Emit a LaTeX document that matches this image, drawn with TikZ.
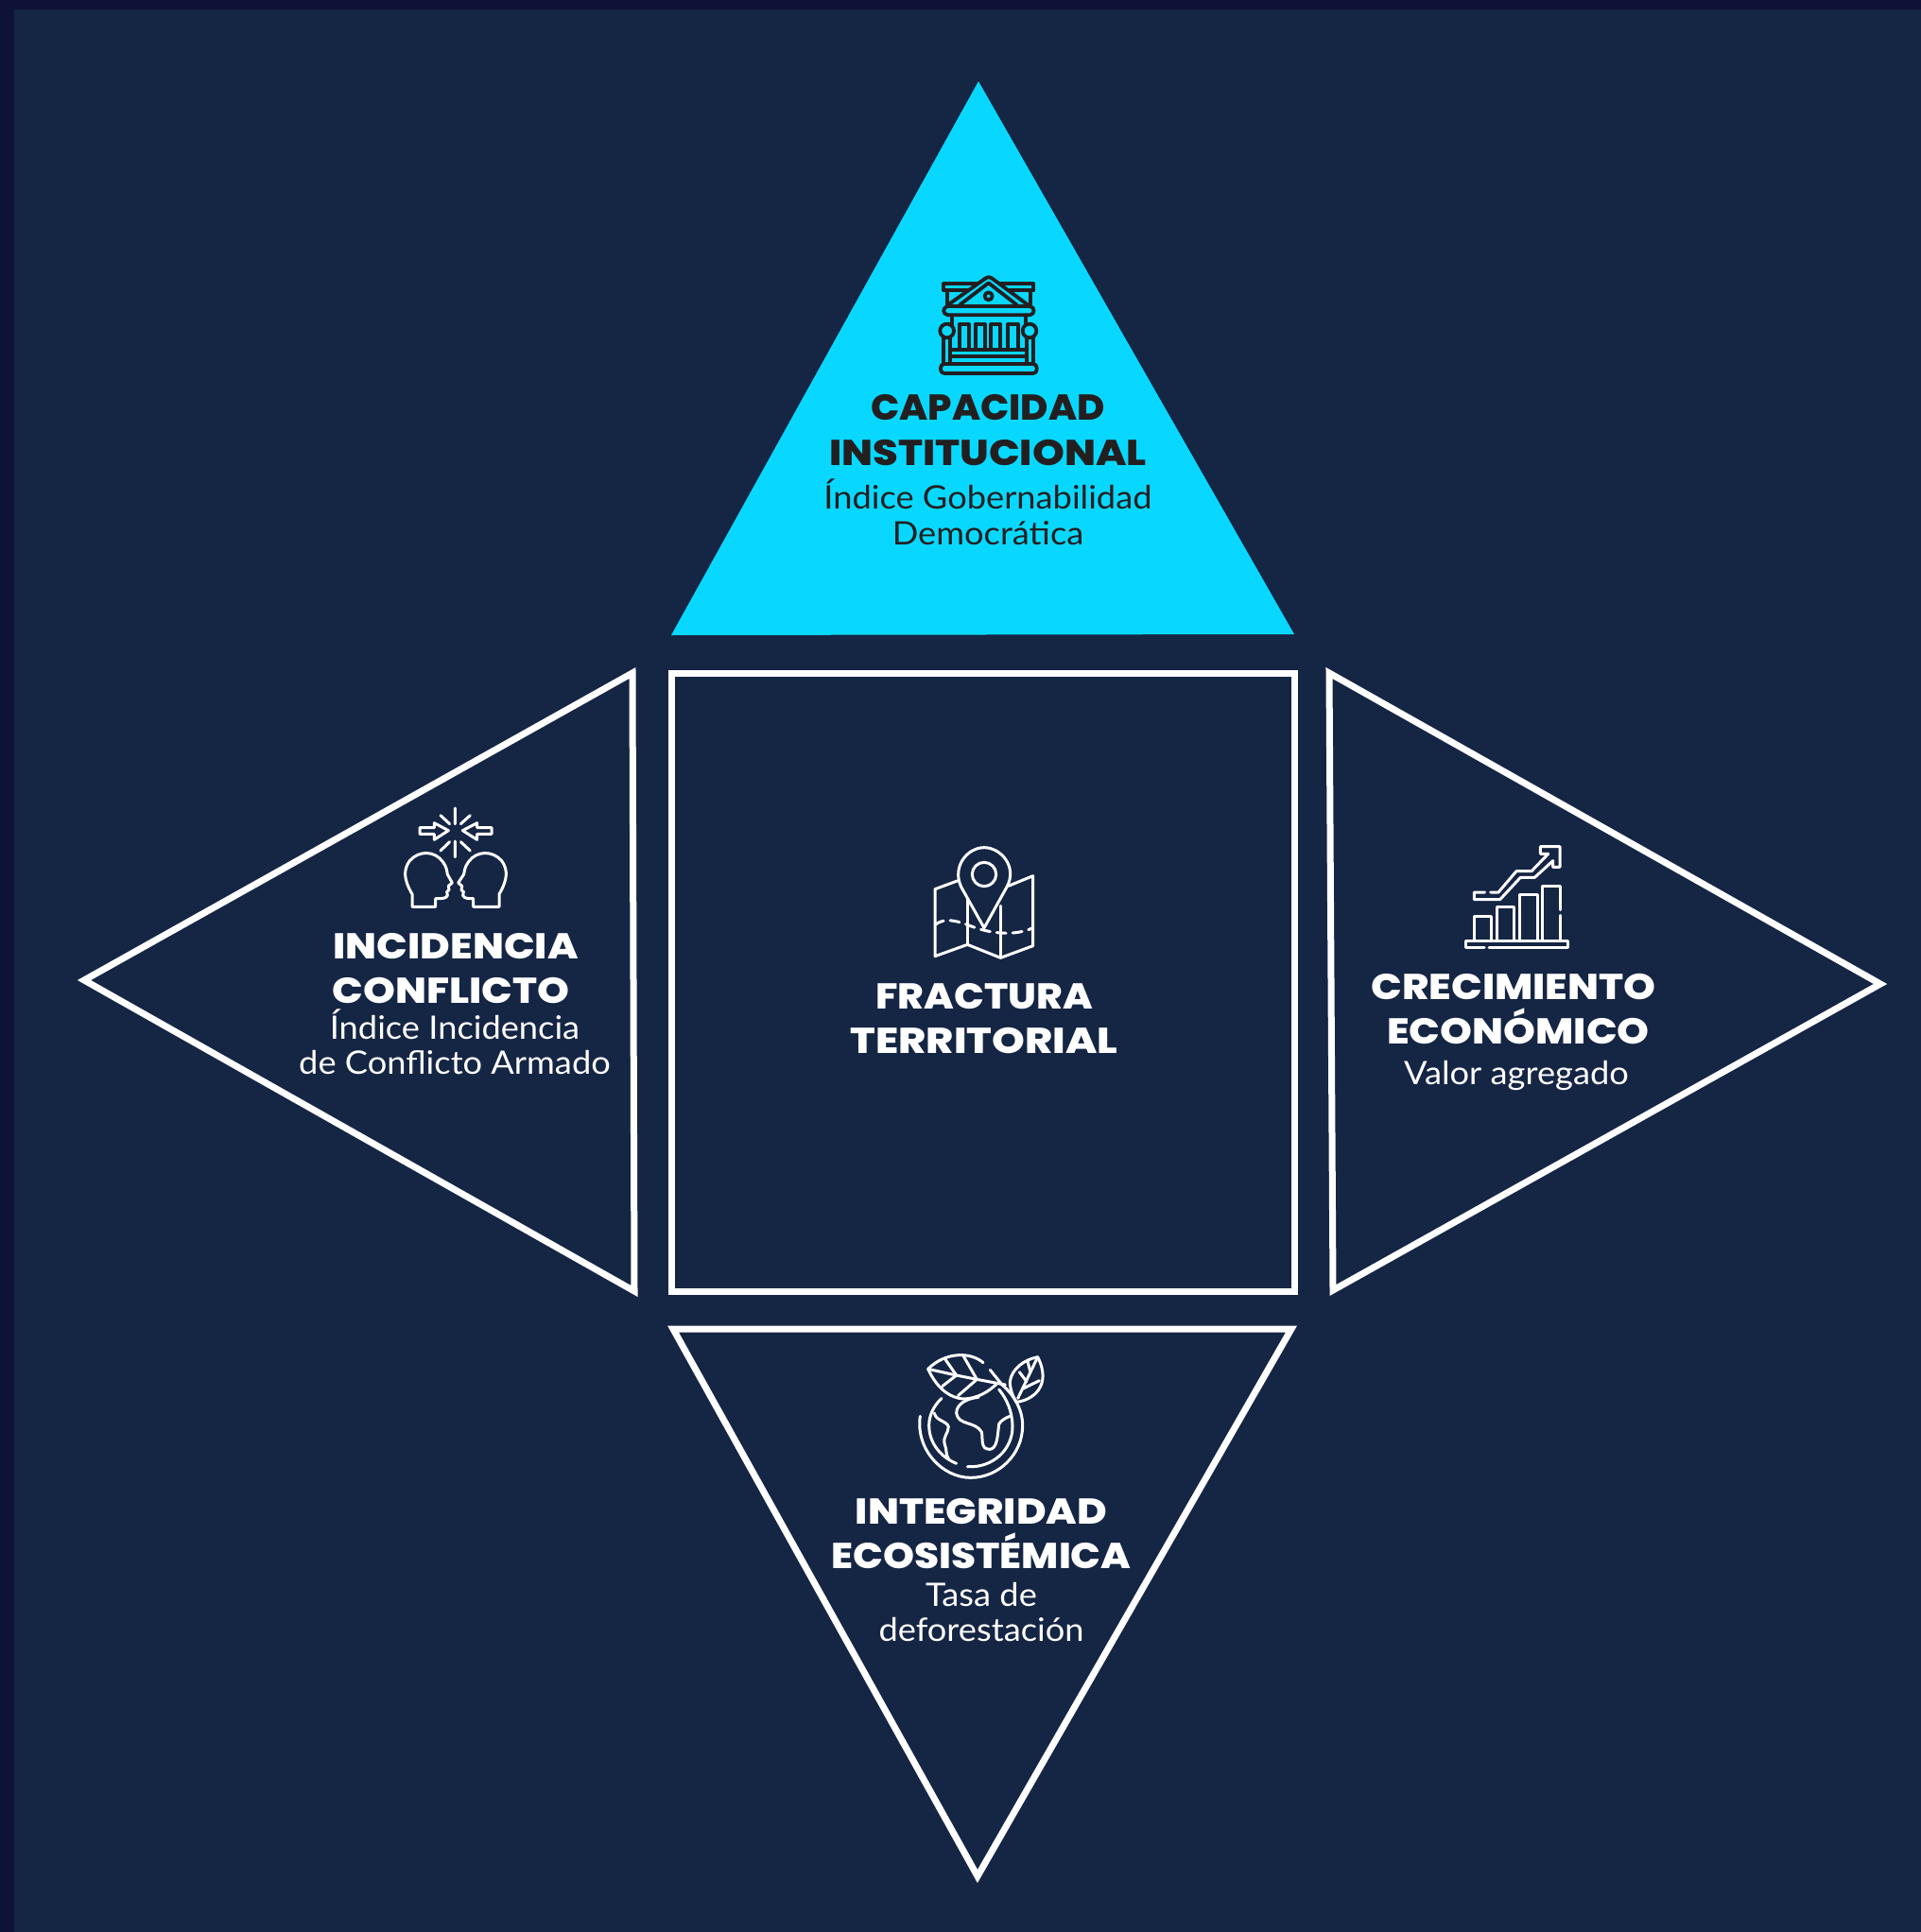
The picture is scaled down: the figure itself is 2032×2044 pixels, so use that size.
\documentclass[tikz,border=0pt]{standalone}
\usepackage{fontspec}
\setmainfont{Lato}
\newfontfamily\headf{Poppins}[UprightFont=* ExtraBold,FakeStretch=1.135]
\newfontfamily\headn{Poppins}[UprightFont=* ExtraBold,FakeStretch=1.05]
\newfontfamily\headm{Poppins}[UprightFont=* ExtraBold,FakeStretch=1.105]
\newfontfamily\headw{Poppins}[UprightFont=* ExtraBold,FakeStretch=1.165]
\newfontfamily\bodyf{Lato}[FakeStretch=1.06]
\definecolor{frameC}{HTML}{0D1236}
\definecolor{bgC}{HTML}{152544}
\definecolor{cyanC}{HTML}{08D8FF}
\definecolor{inkC}{HTML}{231F20}
\tikzset{
  shapeline/.style={draw=white,line width=3.5pt,miter limit=10,line join=miter},
  headtext/.style={anchor=base,inner sep=0pt,font=\headf\fontsize{19}{19}\selectfont},
  headtextn/.style={anchor=base,inner sep=0pt,font=\headn\fontsize{19}{19}\selectfont},
  headtextm/.style={anchor=base,inner sep=0pt,font=\headm\fontsize{19}{19}\selectfont},
  headtextw/.style={anchor=base,inner sep=0pt,font=\headw\fontsize{19}{19}\selectfont},
  bodytext/.style={anchor=base,inner sep=0pt,font=\bodyf\fontsize{17.1}{17}\selectfont},
  iconw/.style={draw=white,line width=1.5pt,line join=round,line cap=round},
  iconk/.style={draw=inkC,line width=1.9pt,line join=round,line cap=round},
  zoomgrid/.style={x=0.166667pt,y=-0.166667pt}
}
\begin{document}
\begin{tikzpicture}[x=0.5pt,y=-0.5pt]
\useasboundingbox (0,0) rectangle (2032,2044);
\fill[frameC] (0,0) rectangle (2032,2044);
\fill[bgC] (15,10) rectangle (2032,2044);
% shapes
\fill[cyanC] (1035,86) -- (710,672) -- (1369,671) -- cycle;
\draw[shapeline] (710,712) rectangle (1369,1366);
\draw[shapeline] (89,1037) -- (669,712) -- (671,1366) -- cycle;
\draw[shapeline] (1406,712) -- (1410,1365) -- (1989,1041) -- cycle;
\draw[shapeline] (712,1406) -- (1366,1406) -- (1034,1985) -- cycle;
% building icon
\begin{scope}[shift={(960,270)},zoomgrid]
\draw[iconk] (115,90) rectangle (400,112);
\draw[iconk] (125,112) -- (125,158) (390,112) -- (390,158);
\draw[iconk,fill=cyanC] (125,160) -- (245,75) .. controls (255,68) and (260,68) .. (270,75) -- (385,160);
\draw[iconk] (165,158) -- (257,88) -- (347,158);
\draw[iconk] (257,130) circle (12);
\draw[iconk] (128,162) -- (388,162) .. controls (405,165) and (405,187) .. (388,190) -- (128,190) .. controls (110,187) and (110,165) .. (128,162) -- cycle;
\draw[iconk] (140,190) -- (140,220) (375,190) -- (375,220);
\draw[iconk] (125,240) circle (22) (387,240) circle (22);
\draw[iconk] (115,262) -- (115,345) (135,262) -- (135,345) (378,262) -- (378,345) (398,262) -- (398,345);
\draw[iconk] (165,300) -- (165,220) -- (195,220) -- (195,300);
\draw[iconk] (215,300) -- (215,220) -- (245,220) -- (245,300);
\draw[iconk] (265,300) -- (265,220) -- (295,220) -- (295,300);
\draw[iconk] (318,300) -- (318,220) -- (350,220) -- (350,300);
\draw[iconk] (135,300) -- (378,300) (135,322) -- (378,322);
\draw[iconk,rounded corners=2pt] (105,345) rectangle (410,375);
\end{scope}
% heads icon
\begin{scope}[shift={(410,840)},zoomgrid]
\draw[iconw] (214,45) -- (214,95) (214,150) -- (214,200) (168,68) -- (197,95) (262,68) -- (232,95) (168,180) -- (197,152) (262,180) -- (232,152);
\draw[iconw] (102,107) -- (148,107) -- (148,92) -- (193,116) -- (148,145) -- (148,127) -- (102,127) -- cycle;
\draw[iconw] (330,107) -- (284,107) -- (284,92) -- (238,116) -- (284,145) -- (284,127) -- (330,127) -- cycle;
\draw[iconw] (78,358) -- (78,318) .. controls (50,270) and (50,240) .. (70,212) .. controls (100,178) and (150,180) .. (175,215) .. controls (188,232) and (188,245) .. (190,255) -- (205,282) -- (193,292) -- (195,305) -- (188,310) -- (190,322) .. controls (185,332) and (175,332) .. (152,332) -- (152,358) -- cycle;
\draw[iconw] (354,358) -- (354,318) .. controls (382,270) and (382,240) .. (362,212) .. controls (332,178) and (282,180) .. (257,215) .. controls (244,232) and (244,245) .. (242,255) -- (224,282) -- (236,292) -- (234,305) -- (241,310) -- (239,322) .. controls (244,332) and (254,332) .. (272,332) -- (272,358) -- cycle;
\end{scope}
% map icon
\begin{scope}[shift={(970,880)},zoomgrid]
\draw[iconw] (130,155) -- (57,182) -- (57,395) -- (160,358) -- (265,400) -- (368,362) -- (368,140) -- (290,172);
\draw[iconw] (160,215) -- (160,358) (265,235) -- (265,400);
\draw[iconw] (213,305) -- (140,175) .. controls (110,110) and (160,50) .. (213,50) .. controls (265,50) and (320,110) .. (285,175) -- cycle;
\draw[iconw] (213,135) circle (38);
\draw[iconw,dash pattern=on 5pt off 3.5pt] (57,295) .. controls (90,270) and (130,285) .. (160,295) .. controls (200,312) and (290,340) .. (368,305);
\end{scope}
% chart icon
\begin{scope}[shift={(1530,880)},zoomgrid]
\draw[iconw] (88,345) -- (88,267) -- (143,267) -- (143,345);
\draw[iconw] (160,345) -- (160,238) -- (215,238) -- (215,345);
\draw[iconw] (233,345) -- (233,198) -- (290,198) -- (290,345);
\draw[iconw] (305,345) -- (305,172) -- (360,172) -- (360,248) (360,265) -- (360,345);
\draw[iconw] (120,368) -- (62,368) -- (62,345) -- (385,345) -- (385,368) -- (135,368);
\draw[iconw] (122,192) -- (88,192) -- (88,215) -- (170,215) -- (235,145) -- (280,145) -- (338,92) -- (338,112) -- (360,112) -- (360,47) -- (298,47) -- (298,70) -- (323,70) -- (270,125) -- (222,125) -- (165,192) -- (140,192);
\end{scope}
% globe icon
\begin{scope}[shift={(960,1420)},zoomgrid]
\draw[iconw] (190,395) .. controls (270,400) and (335,340) .. (333,265) .. controls (332,220) and (315,180) .. (290,150);
\draw[iconw] (108,178) .. controls (80,205) and (68,235) .. (68,265) .. controls (68,310) and (95,360) .. (155,385);
\draw[iconw] (40,235) .. controls (25,340) and (110,430) .. (200,430) .. controls (290,430) and (365,355) .. (365,265) .. controls (365,215) and (340,170) .. (300,135) -- (262,88);
\draw[iconw] (240,65) .. controls (200,30) and (120,30) .. (65,85) .. controls (90,140) and (130,178) .. (180,180) .. controls (220,178) and (255,160) .. (285,130);
\draw[iconw] (65,85) -- (155,105) -- (220,118) -- (310,135);
\draw[iconw] (120,55) -- (155,105) (175,40) -- (220,118) (110,140) -- (155,105) (160,170) -- (220,118);
\draw[iconw] (413,47) .. controls (370,55) and (330,85) .. (325,125) .. controls (325,150) and (335,175) .. (345,190) .. controls (395,185) and (460,140) .. (413,47) -- cycle;
\draw[iconw] (413,47) -- (350,178);
\draw[iconw] (355,95) -- (378,125) (380,58) -- (390,95) (418,122) -- (365,148);
\draw[iconw] (225,175) .. controls (190,178) and (155,195) .. (155,225) .. controls (160,265) and (215,250) .. (235,285) .. controls (240,310) and (230,340) .. (262,340) .. controls (285,335) and (285,300) .. (290,260) .. controls (295,250) and (310,240) .. (325,235);
\draw[iconw] (85,225) .. controls (90,250) and (125,250) .. (130,268) .. controls (130,290) and (110,300) .. (118,325) .. controls (125,340) and (120,355) .. (130,370);
\end{scope}
% texts
\node[headtextn,text=inkC] (capa) at (1045,444) {CAPACIDAD};
\node[headtext,text=inkC] (inst) at (1045,492) {INSTITUCIONAL};
\node[bodytext,text=inkC] (indg) at (1045,538) {Índice Gobernabilidad};
\node[bodytext,text=inkC] (demo) at (1045,576) {Democrática};
\node[headtextm,text=white] (frac) at (1041,1067) {FRACTURA};
\node[headtextw,text=white] (terr) at (1041,1114) {TERRITORIAL};
\node[headtext,text=white] (inci) at (482,1014) {INCIDENCIA};
\node[headtext,text=white] (conf) at (477,1061) {CONFLICTO};
\node[bodytext,text=white] (indi) at (481,1099) {Índice Incidencia};
\node[bodytext,text=white] (dear) at (481,1136) {de Conflicto Armado};
\node[headtext,text=white] (crec) at (1601,1057) {CRECIMIENTO};
\node[headtext,text=white] (econ) at (1606,1104) {ECONÓMICO};
\node[bodytext,text=white] (valo) at (1604,1147) {Valor agregado};
\node[headtext,text=white] (inte) at (1038,1612) {INTEGRIDAD};
\node[headtextm,text=white] (ecos) at (1038,1659) {ECOSISTÉMICA};
\node[bodytext,text=white] (tasa) at (1038,1699) {Tasa de};
\node[bodytext,text=white] (defo) at (1038,1736) {deforestación};
\end{tikzpicture}
\end{document}
